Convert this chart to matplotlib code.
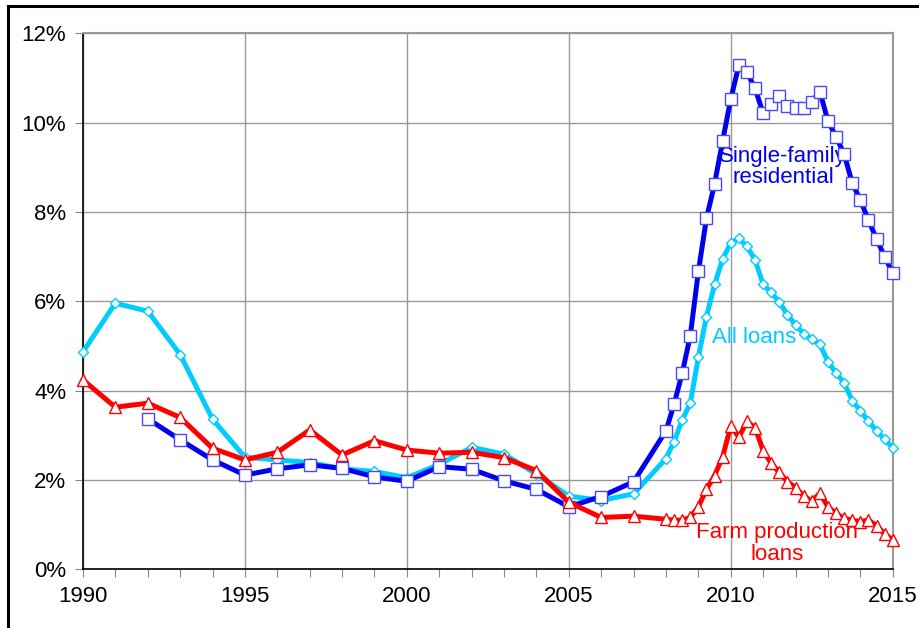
import matplotlib.pyplot as plt
from matplotlib.lines import Line2D
from matplotlib.ticker import FuncFormatter, MultipleLocator

plt.rcParams['font.family'] = ['Liberation Sans', 'DejaVu Sans']

# annual values 1990-2007, then quarterly 2008.0-2015.0
annual_years = list(range(1990, 2008))
quarter_years = [2008 + 0.25 * i for i in range(29)]

all_loans_annual = [4.87, 5.96, 5.78, 4.81, 3.36, 2.51, 2.45, 2.39, 2.25, 2.19,
                    2.05, 2.35, 2.73, 2.58, 2.13, 1.64, 1.54, 1.69]
all_loans_qtr = [2.48, 2.86, 3.34, 3.72, 4.75, 5.66, 6.38, 6.95, 7.31, 7.41,
                 7.23, 6.93, 6.38, 6.20, 5.98, 5.70, 5.47, 5.28, 5.15, 5.04,
                 4.65, 4.40, 4.17, 3.78, 3.55, 3.32, 3.10, 2.91, 2.72]

# single-family series starts in 1992
sf_annual = [None, None, 3.37, 2.90, 2.45, 2.11, 2.25, 2.34, 2.26, 2.07,
             1.97, 2.30, 2.24, 1.98, 1.79, 1.40, 1.63, 1.96]
sf_qtr = [3.10, 3.70, 4.39, 5.23, 6.67, 7.86, 8.63, 9.60, 10.53, 11.29,
          11.13, 10.77, 10.21, 10.42, 10.60, 10.38, 10.32, 10.32, 10.47, 10.70,
          10.04, 9.69, 9.30, 8.65, 8.27, 7.82, 7.40, 7.00, 6.64]

farm_annual = [4.24, 3.63, 3.72, 3.40, 2.71, 2.45, 2.62, 3.12, 2.56, 2.88,
               2.67, 2.60, 2.62, 2.50, 2.21, 1.50, 1.16, 1.19]
farm_qtr = [1.12, 1.10, 1.10, 1.16, 1.40, 1.79, 2.10, 2.52, 3.21, 2.96,
            3.31, 3.17, 2.66, 2.37, 2.17, 1.96, 1.83, 1.64, 1.53, 1.70,
            1.40, 1.25, 1.14, 1.10, 1.07, 1.10, 0.98, 0.79, 0.66]


def join(annual, qtr):
    xs, ys = [], []
    for x, y in zip(annual_years + quarter_years, annual + qtr):
        if y is not None:
            xs.append(x)
            ys.append(y)
    return xs, ys


fig = plt.figure(figsize=(9.19, 6.28), dpi=100)
ax = fig.add_axes([0.0903, 0.0935, 0.8811, 0.8532])

x, y = join(all_loans_annual, all_loans_qtr)
ax.plot(x, y, color='#00CCFF', lw=3.6, marker='D', ms=5.5, mfc='white',
        mec='#00CCFF', mew=1.0, zorder=3, clip_on=False)
x, y = join(sf_annual, sf_qtr)
ax.plot(x, y, color='#0000EE', lw=3.6, marker='s', ms=9, mfc='white',
        mec='#4848FF', mew=1.0, zorder=4, clip_on=False)
x, y = join(farm_annual, farm_qtr)
ax.plot(x, y, color='#FF0000', lw=3.6, marker='^', ms=8, mfc='white',
        mec='#FF0000', mew=1.0, zorder=5, clip_on=False)

ax.set_xlim(1990, 2015)
ax.set_ylim(0, 12)
ax.xaxis.set_major_locator(MultipleLocator(5))
ax.xaxis.set_minor_locator(MultipleLocator(1))
ax.yaxis.set_major_locator(MultipleLocator(2))
ax.yaxis.set_major_formatter(FuncFormatter(lambda v, p: f'{v:.0f}%'))
ax.grid(True, which='major', color='#999999', lw=1.0)
ax.set_axisbelow(True)
ax.tick_params(axis='both', which='major', labelsize=16, length=6, width=0.8,
               color='#888888', direction='out', pad=6)
ax.tick_params(axis='x', which='minor', length=6, width=0.8, color='#888888',
               direction='out')
for s in ('left', 'bottom'):
    ax.spines[s].set_color('black')
    ax.spines[s].set_linewidth(1.2)
for s in ('top', 'right'):
    ax.spines[s].set_color('#999999')
    ax.spines[s].set_linewidth(1.5)

ax.text(2011.61, 9.01, 'Single-family\nresidential', color='#0000EE',
        fontsize=16, ha='center', va='center', linespacing=1.05)
ax.text(2010.72, 5.18, 'All loans', color='#00CCFF', fontsize=16,
        ha='center', va='center')
ax.text(2011.43, 0.57, 'Farm production\nloans', color='#FF0000',
        fontsize=16, ha='center', va='center', linespacing=1.05)

# outer frame (only top and left edges show in the picture)
fig.add_artist(Line2D([8 / 919, 8 / 919], [0, 1 - 6 / 628], color='black',
                      lw=2.2, transform=fig.transFigure))
fig.add_artist(Line2D([8 / 919, 918 / 919], [1 - 6 / 628, 1 - 6 / 628],
                      color='black', lw=2.2, transform=fig.transFigure))

fig.savefig('out.png', dpi=100)
